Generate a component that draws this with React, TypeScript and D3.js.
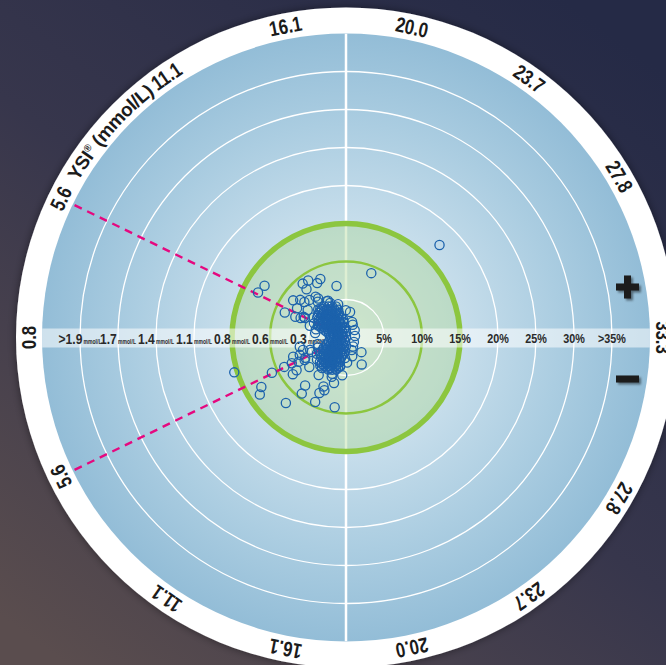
import React from 'react';
import * as d3 from 'd3';

const W = 666;
const H = 665;

// YSI glucose ticks (mmol/L) along the rim and the angle (deg, from left horizontal) they sit at
const glucoseTicks = [0.8, 5.6, 11.1, 16.1, 20.0, 23.7, 27.8, 33.3];
const tickAngles = [0, 26, 55.5, 79, 102, 125.3, 149.5, 180];
const ringSteps = [5, 10, 15, 20, 25, 30, 35];
const pctLabels = ['5%', '10%', '15%', '20%', '25%', '30%', '>35%'];
const mmolLabels = ['0.3', '0.6', '0.8', '1.1', '1.4', '1.7', '>1.9'];

// Measurements: YSI reference glucose (mmol/L) and bias (% ; mg/dL-equivalent below 5.6 mmol/L)
const ysi = [
  25.4, 21.5, 6.8, 5.8, 10.3, 11.3, 10.2, 13.4, 16.2, 7.3, 6.5, 4.9, 10.7, 10.4, 12.5, 8.3, 17.9, 5.1, 7.4,
  22.5, 26.1, 24.2, 25.6, 18.4, 16.0, 11.4, 3.8, 4.6, 5.8, 5.5, 5.5, 7.0, 5.5, 4.0, 10.0, 6.4, 7.0, 10.4,
  13.0, 13.7, 15.3, 13.0, 9.6, 16.4, 12.5, 13.2, 9.8, 4.9, 5.6, 22.0, 14.2, 13.2, 2.9, 4.5, 6.1, 5.0, 17.5,
  22.9, 7.2,
  8.1, 9.3, 10.9, 12.9, 15.6, 5.5, 4.1, 2.3, 3.2, 4.3, 5.7, 8.0, 10.8, 14.0, 17.0, 21.0, 27.9, 21.5, 19.5, 31.5,
  6.7, 5.2, 3.6, 6.2, 7.7, 4.4,
  9.2, 10.0, 11.0, 12.2, 13.6, 15.1,
  8.6, 9.4, 10.5, 11.7, 13.3, 15.0,
  7.2, 8.0, 8.9, 10.1, 11.5, 13.3, 15.5,
  6.5, 7.3, 8.3, 9.5, 11.2, 13.5, 16.2,
  5.1, 5.7, 6.5, 7.7, 9.2, 11.4, 14.6,
  4.5, 5.2, 6.3, 8.0, 10.7, 15.5,
  3.2, 4.0, 5.2, 8.0, 15.5,
  1.0, 1.0, 1.2, 1.5, 17.0,
  3.2, 4.0, 5.2, 8.0, 15.5,
  4.8, 5.7, 7.1, 9.2, 12.8, 18.0,
  5.9, 6.8, 8.0, 9.7, 12.1, 15.5,
  6.7, 7.5, 8.6, 9.9, 11.7, 14.1, 16.8,
  8.0, 8.9, 10.1, 11.5, 13.3, 15.5,
  9.7, 10.7, 12.1, 13.7, 15.5,
  11.6, 12.8, 14.3,
  9.2, 10.1, 11.2, 12.5, 14.0,
  7.9, 8.7, 9.7, 10.9, 12.4, 14.2,
  7.1, 7.9, 8.9, 10.2, 11.9, 14.0, 16.4,
  6.0, 6.8, 7.9, 9.2, 11.0, 13.6, 16.6,
  4.8, 5.5, 6.5, 7.8, 9.8, 12.8, 17.0,
  3.9, 4.6, 5.7, 7.7, 11.4, 18.0,
  2.2, 2.7, 3.7, 7.1,
  2.3, 2.9, 4.2, 9.2,
  4.0, 4.8, 6.1, 8.4, 12.8,
  5.3, 6.2, 7.4, 9.2, 11.9, 16.0,
  6.2, 7.1, 8.2, 9.6, 11.6, 14.3, 17.2,
  7.7, 8.6, 9.8, 11.4, 13.4, 15.8,
  9.0, 10.0, 11.2, 12.8, 14.7,
  10.6, 11.8, 13.2, 14.8,
  10.4, 11.4, 12.5, 13.9, 15.3,
  9.6, 9.6, 10.5, 15.9, 8.8,
  12.3, 13.5, 14.8,
  11.0, 12.1, 13.3, 14.6,
];
const bias = [
  17.3, 9.1, 12.7, 13.0, 9.1, 9.0, 8.2, 8.4, 6.9, 8.5, 7.5, 8.7, 6.7, 6.0, 5.4, 7.2, 3.6, 6.5, 6.2,
  1.9, 1.5, -1.5, -2.8, -3.3, -3.9, -3.8, -5.9, -6.5, -7.0, -7.9, -9.0, -7.8, -10.8, -15.4, -8.3, -12.9, -13.6, -9.4,
  -8.1, -7.5, -6.2, -9.4, -11.7, -9.3, 8.1, 5.0, 5.1, 7.2, 6.2, -1.8, -5.5, -7.1, -6.2, -7.4, -6.2, -4.9, -2.7,
  -4.1, -8.5,
  7.8, 6.9, 6.3, 5.4, 4.5, 6.0, 5.0, 4.1, -3.8, -5.0, -6.0, -6.2, -6.1, -5.1, -5.0, -2.6, -1.2, 2.2, 3.4, 1.2,
  5.0, 4.6, 4.1, -4.4, -4.8, -3.9,
  5.2, 4.9, 4.5, 4.2, 4.0, 3.8,
  4.8, 4.4, 4.0, 3.7, 3.5, 3.3,
  4.6, 4.2, 3.8, 3.5, 3.1, 2.9, 2.7,
  4.1, 3.7, 3.3, 2.9, 2.6, 2.3, 2.1,
  4.0, 3.5, 3.1, 2.6, 2.2, 1.9, 1.7,
  3.1, 2.6, 2.1, 1.7, 1.3, 1.1,
  2.3, 1.8, 1.3, 0.8, 0.5,
  2.1, 1.6, 1.1, 0.5, 0.1,
  -2.3, -1.8, -1.3, -0.8, -0.5,
  -2.8, -2.4, -1.9, -1.5, -1.2, -1.1,
  -3.4, -3.0, -2.5, -2.1, -1.8, -1.6,
  -4.0, -3.6, -3.2, -2.8, -2.5, -2.2, -2.1,
  -4.2, -3.8, -3.5, -3.1, -2.9, -2.7,
  -4.3, -3.9, -3.7, -3.4, -3.3,
  -4.4, -4.1, -3.9,
  4.8, 4.5, 4.2, 3.9, 3.7,
  4.7, 4.3, 3.9, 3.6, 3.3, 3.1,
  4.3, 3.8, 3.4, 3.1, 2.8, 2.5, 2.4,
  3.9, 3.4, 3.0, 2.6, 2.3, 2.0, 1.9,
  3.5, 3.1, 2.6, 2.2, 1.8, 1.5, 1.3,
  2.7, 2.2, 1.8, 1.3, 0.9, 0.8,
  2.0, 1.5, 1.0, 0.5,
  -1.9, -1.3, -0.8, -0.4,
  -2.6, -2.1, -1.6, -1.2, -0.9,
  -3.2, -2.7, -2.3, -1.9, -1.5, -1.3,
  -3.8, -3.3, -2.9, -2.5, -2.2, -2.0, -1.8,
  -3.9, -3.5, -3.2, -2.8, -2.6, -2.4,
  -4.2, -3.8, -3.5, -3.2, -3.0,
  -4.3, -4.0, -3.8, -3.6,
  -5.1, -4.7, -4.5, -4.2, -4.1,
  -4.7, -5.0, -4.7, -3.8, -4.7,
  -4.8, -4.6, -4.4,
  5.0, 4.7, 4.5, 4.3,
];

const FONT = "'Liberation Sans', Arial, sans-serif";

type CTProps = {
  x: number;
  y: number;
  rot?: number;
  sx?: number;
  children?: React.ReactNode;
  [k: string]: any;
};
function CText({ x, y, rot = 0, sx = 0.8, children, ...rest }: CTProps) {
  return (
    <text transform={`translate(${x},${y}) rotate(${rot}) scale(${sx},1)`} fontFamily={FONT} fontWeight="bold" {...rest}>
      {children}
    </text>
  );
}

export default function App() {
  const cx = 346;
  const cy = 337.5;
  const R = 304;
  const RO = 330;
  const angle = d3.scaleLinear().domain(glucoseTicks).range(tickAngles).clamp(true);
  const rad = d3.scaleLinear().domain([0, 40]).range([0, R]);
  const toRad = (d: number) => (d * Math.PI) / 180;

  const pos = (g: number, b: number) => {
    const t = toRad(angle(g));
    const r = rad(Math.abs(b));
    return [cx - r * Math.cos(t), cy + (b >= 0 ? -1 : 1) * r * Math.sin(t)];
  };

  const labelR = 317;
  const rimLabels: { x: number; y: number; rot: number; text: string }[] = [];
  glucoseTicks.forEach((g, i) => {
    const th = angle(g);
    const t = toRad(th);
    const txt = g.toFixed(1);
    rimLabels.push({ x: cx - labelR * Math.cos(t), y: cy - labelR * Math.sin(t), rot: th - 90, text: txt });
    if (i > 0 && i < glucoseTicks.length - 1) {
      rimLabels.push({ x: cx - labelR * Math.cos(t), y: cy + labelR * Math.sin(t), rot: 270 - th, text: txt });
    }
  });

  const dashAngle = toRad(angle(5.6));
  const arcR = 310;
  const a0 = toRad(28);
  const a1 = toRad(60);
  const arcPath = `M${cx - arcR * Math.cos(a0)},${cy - arcR * Math.sin(a0)} A${arcR},${arcR} 0 0 1 ${cx - arcR * Math.cos(a1)},${cy - arcR * Math.sin(a1)}`;
  const ysiStart = arcR * toRad(30.2 - 28);

  const greenR = rad(15);
  const green2R = rad(10);

  return (
    <svg width={W} height={H} style={{ position: 'absolute', left: 0, top: 0, display: 'block' }}>
      <defs>
        <linearGradient id="bg" x1="0.85" y1="0" x2="0.1" y2="1">
          <stop offset="0" stopColor="#252a46" />
          <stop offset="0.5" stopColor="#37364c" />
          <stop offset="1" stopColor="#5a4d4e" />
        </linearGradient>
        <radialGradient id="disk" cx="0.5" cy="0.5" r="0.5">
          <stop offset="0" stopColor="#e6f0f5" />
          <stop offset="0.35" stopColor="#c9dfec" />
          <stop offset="0.7" stopColor="#abcde1" />
          <stop offset="1" stopColor="#93bdd7" />
        </radialGradient>
        <filter id="ringShadow" x="-10%" y="-10%" width="120%" height="120%">
          <feDropShadow dx="0" dy="0" stdDeviation="4" floodColor="#000" floodOpacity="0.45" />
        </filter>
        <filter id="signShadow" x="-30%" y="-30%" width="160%" height="160%">
          <feDropShadow dx="2" dy="2" stdDeviation="1.2" floodColor="#000" floodOpacity="0.45" />
        </filter>
        <clipPath id="diskClip">
          <circle cx={cx} cy={cy} r={R} />
        </clipPath>
        <path id="ysiArc" d={arcPath} />
      </defs>

      <rect x={0} y={0} width={W} height={H} fill="url(#bg)" />
      <circle cx={cx} cy={cy} r={RO} fill="#ffffff" filter="url(#ringShadow)" />
      <circle cx={cx} cy={cy} r={R} fill="url(#disk)" />

      <g clipPath="url(#diskClip)">
        {ringSteps.filter((s) => s >= 20).map((s) => (
          <circle key={s} cx={cx} cy={cy} r={rad(s)} fill="none" stroke="#ffffff" strokeWidth={1.3} />
        ))}
        <line x1={cx} x2={cx} y1={cy - R} y2={cy + R} stroke="#ffffff" strokeWidth={2.5} />
        <circle cx={cx} cy={cy} r={greenR} fill="#a9d58c" fillOpacity={0.38} />
        <circle cx={cx} cy={cy} r={rad(5)} fill="none" stroke="#ffffff" strokeWidth={1.3} />
        <circle cx={cx} cy={cy} r={green2R} fill="none" stroke="#8cc63f" strokeWidth={2.6} />
        <circle cx={cx} cy={cy} r={greenR} fill="none" stroke="#8cc63f" strokeWidth={5.5} />
        {[1, -1].map((s) => (
          <line
            key={s}
            x1={cx}
            y1={cy}
            x2={cx - R * Math.cos(dashAngle)}
            y2={cy - s * R * Math.sin(dashAngle)}
            stroke="#e5087f"
            strokeWidth={2.4}
            strokeDasharray="8 6"
          />
        ))}
        <rect x={cx - R} y={328.5} width={2 * R} height={19} fill="#ffffff" fillOpacity={0.55} />
      </g>

      {mmolLabels.map((t, i) => (
        <CText key={t} x={cx - rad(ringSteps[i])} y={343.5} sx={0.78} textAnchor="middle" fill="#2a2a2a">
          <tspan fontSize={15.5}>{t}</tspan>
          <tspan fontSize={6.5} dx={1.5}>mmol/L</tspan>
        </CText>
      ))}
      {pctLabels.map((t, i) => (
        <CText key={t} x={cx + rad(ringSteps[i])} y={343} sx={0.8} textAnchor="middle" fontSize={13.5} fill="#2a2a2a">
          {t}
        </CText>
      ))}

      <g fill="none" stroke="#1c62ac" strokeWidth={1.3}>
        {ysi.map((g, i) => {
          const [x, y] = pos(g, bias[i]);
          return <circle key={i} cx={x} cy={y} r={4.6} />;
        })}
      </g>

      {rimLabels.map((l, i) => (
        <CText
          key={i}
          x={l.x}
          y={l.y}
          rot={l.rot}
          sx={0.8}
          textAnchor="middle"
          dominantBaseline="central"
          fontSize={21}
          fill="#1b1b1b"
        >
          {l.text}
        </CText>
      ))}
      <text fontFamily={FONT} fontWeight="bold" fontSize={19} fill="#1b1b1b" letterSpacing={-0.5}>
        <textPath href="#ysiArc" startOffset={ysiStart}>
          YSI<tspan fontSize={10} dy={-7}>®</tspan>
          <tspan dy={7}> (mmol/L)</tspan>
        </textPath>
      </text>

      <g fill="#1d1d1d" filter="url(#signShadow)">
        <rect x={616} y={283.5} width={23} height={7} />
        <rect x={624} y={275.5} width={7} height={23} />
        <rect x={616} y={375.5} width={23} height={7} />
      </g>
    </svg>
  );
}
